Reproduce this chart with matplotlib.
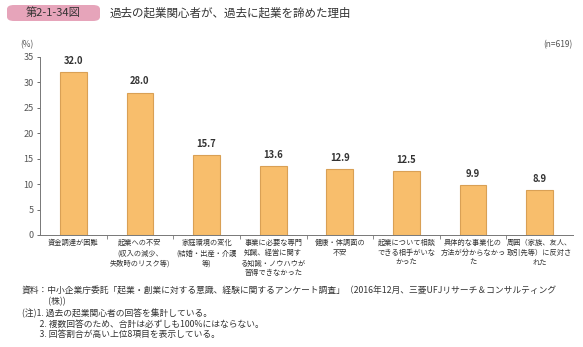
import matplotlib.pyplot as plt
from matplotlib.patches import FancyBboxPatch
import numpy as np

plt.rcParams['font.family'] = ['Noto Sans CJK JP', 'DejaVu Sans']

W, H = 583, 347

categories = [
    "資金調達が困難",
    "起業への不安\n(収入の減少、\n失敗時のリスク等)",
    "家庭環境の変化\n(結婚・出産・介護\n等)",
    "事業に必要な専門\n知識、経営に関す\nる知識・ノウハウが\n習得できなかった",
    "健康・体調面の\n不安",
    "起業について相談\nできる相手がいな\nかった",
    "具体的な事業化の\n方法が分からなかっ\nた",
    "周囲（家族、友人、\n取引先等）に反対さ\nれた",
]
values = [32.0, 28.0, 15.7, 13.6, 12.9, 12.5, 9.9, 8.9]
yticks = [0, 5, 10, 15, 20, 25, 30, 35]

notes = [
    "資料：中小企業庁委託「起業・創業に対する意識、経験に関するアンケート調査」（2016年12月、三菱UFJリサーチ＆コンサルティング",
    "　　　(株))",
    "(注)1. 過去の起業関心者の回答を集計している。",
    "　　2. 複数回答のため、合計は必ずしも100%にはならない。",
    "　　3. 回答割合が高い上位8項目を表示している。",
]

BAR = "#F8BE6C"
EDGE = "#D9A055"
TXT = "#333333"

fig = plt.figure(figsize=(W / 100, H / 100), dpi=100)

# axes in pixel coords
x0, x1 = 40, 573
y0, y1 = 235, 57
ax = fig.add_axes([x0 / W, 1 - y0 / H, (x1 - x0) / W, (y0 - y1) / H])

x = np.arange(len(values))
ax.bar(x, values, width=0.4, color=BAR, edgecolor=EDGE, linewidth=0.8)
for xi, v in zip(x, values):
    ax.text(xi, v + 1.2, f"{v:.1f}", ha='center', va='bottom', fontsize=6.8,
            fontweight='bold', color=TXT)

ax.set_xlim(-0.5, len(values) - 0.5)
ax.set_ylim(0, 35)
ax.set_yticks(yticks)
ax.tick_params(axis='y', labelsize=6.5, colors='#555555', length=2.5, width=0.6, pad=2)
ax.set_xticks(x)
ax.set_xticklabels(categories, fontsize=5.2, color=TXT, linespacing=1.35)
ax.tick_params(axis='x', length=0, pad=3)
ax.set_xticks(np.arange(0.5, len(values) - 0.5, 1), minor=True)
ax.tick_params(axis='x', which='minor', length=3, width=0.6, color='#777777')
for lab in ax.get_xticklabels():
    lab.set_verticalalignment('top')
for s in ['top', 'right']:
    ax.spines[s].set_visible(False)
for s in ['left', 'bottom']:
    ax.spines[s].set_color('#777777')
    ax.spines[s].set_linewidth(0.7)

# header
box = FancyBboxPatch((7 / W, 1 - 21 / H), 93 / W, 16 / H,
                     boxstyle="round,pad=0,rounding_size=0.012",
                     transform=fig.transFigure, facecolor="#E6A4BA",
                     edgecolor='none')
fig.patches.append(box)
fig.text(53 / W, 1 - 13 / H, "第2-1-34図", ha='center', va='center',
         fontsize=8, color=TXT)
fig.text(110 / W, 1 - 13 / H, "過去の起業関心者が、過去に起業を諦めた理由",
         ha='left', va='center', fontsize=8.3, color=TXT)
fig.text(27 / W, 1 - 45 / H, "(%)", ha='center', va='center', fontsize=6, color='#555555')
fig.text(573 / W, 1 - 45 / H, "(n=619)", ha='right', va='center', fontsize=6, color='#555555')

for i, line in enumerate(notes):
    fig.text(22 / W, 1 - (291 + i * 11) / H, line, ha='left', va='center',
             fontsize=6.3, color=TXT)

fig.savefig("out.png", dpi=100)
